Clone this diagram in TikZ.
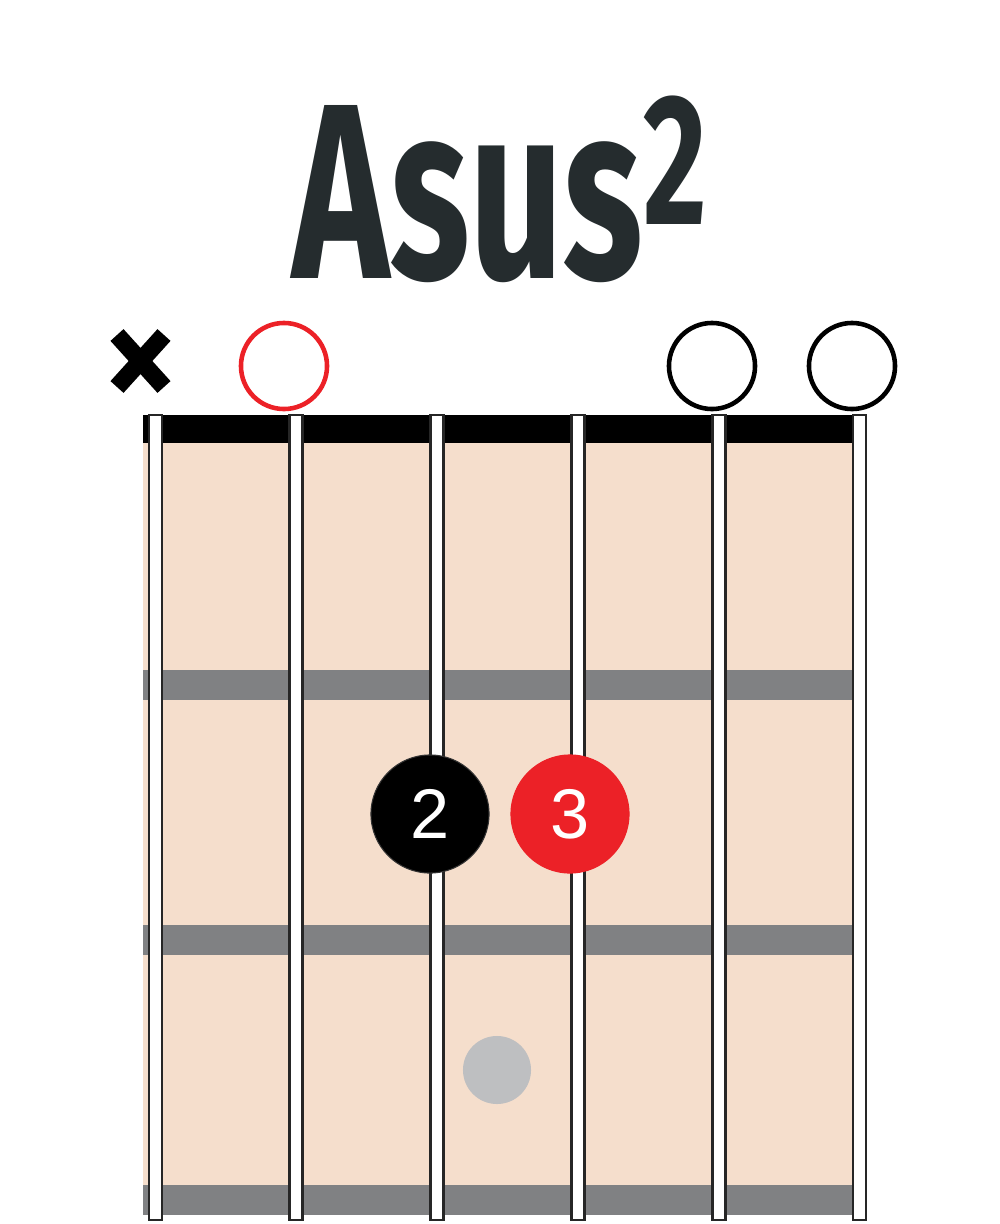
\documentclass[tikz,border=0pt]{standalone}
\usepackage{fontspec}
\setmainfont{Liberation Sans}
\newfontfamily\titlefont{Fira Sans}
\usetikzlibrary{positioning}
\definecolor{boardcol}{RGB}{245,222,204}
\definecolor{fretcol}{RGB}{128,129,131}
\definecolor{fingred}{RGB}{236,33,39}
\definecolor{ghostcol}{RGB}{190,191,193}
\definecolor{inkcol}{RGB}{37,44,46}
\tikzset{
  openstr/.style={circle,draw,line width=1.3pt,minimum size=0.86cm,inner sep=0pt},
  finger/.style={circle,draw=black!80,line width=0.3pt,minimum size=1.18cm,inner sep=0pt,
    text=white,font=\fontsize{20}{20}\selectfont},
  strline/.style={fill=white,draw=black!85,line width=0.8pt}
}
\begin{document}
\begin{tikzpicture}[x=0.01cm,y=-0.01cm]
  \useasboundingbox (0,0) rectangle (1000,1224);
  % title
  \node[anchor=base,text=inkcol,xscale=0.66,transform shape,inner sep=0pt] (title) at (500,278)
    {\titlefont\bfseries\fontsize{71}{71}\selectfont Asus\raisebox{5.3mm}{\fontsize{53}{53}\selectfont 2}};
  % board, frets and nut
  \fill[boardcol] (143,443) rectangle (855,1185);
  \foreach \fy in {670,925,1185}
    \fill[fretcol] (143,\fy) rectangle (855,\fy+30);
  \fill[black] (143,415) rectangle (855,443);
  \foreach \sx in {155.5,296.3,437.1,577.9,718.7,859.5}
    \draw[strline] (\sx-6.5,415) rectangle (\sx+6.5,1220);
  % muted and open strings
  \draw[line width=5pt] (117,335) -- (164,387) (164,335) -- (117,387);
  \node[openstr,draw=fingred] (open2) at (284,366) {};
  \node[openstr] (open5) at (712,366) {};
  \node[openstr] (open6) at (852,366) {};
  % fingers
  \node[finger,fill=black] (f2) at (430,814) {2};
  \node[finger,fill=fingred,draw=fingred] (f3) at (570,814) {3};
  \node[circle,fill=ghostcol,minimum size=0.68cm,inner sep=0pt] (ghost) at (497,1070) {};
\end{tikzpicture}
\end{document}
